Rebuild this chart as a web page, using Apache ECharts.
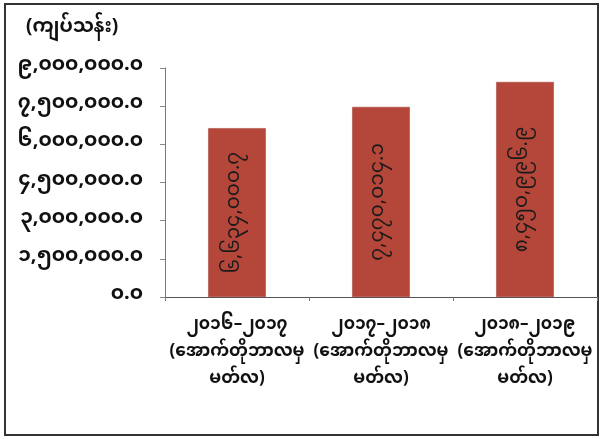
<!DOCTYPE html>
<html><head><meta charset="utf-8">
<script src="https://cdn.jsdelivr.net/npm/echarts@6/dist/echarts.min.js"></script>
<style>html,body{margin:0;padding:0;background:#fff}#c{width:602px;height:439px}</style>
</head><body><div id="c"></div>
<script>
var categories = ['၂၀၁၆–၂၀၁၇\n(အောက်တိုဘာလမှ\nမတ်လ)', '၂၀၁၇–၂၀၁၈\n(အောက်တိုဘာလမှ\nမတ်လ)', '၂၀၁၈–၂၀၁၉\n(အောက်တိုဘာလမှ\nမတ်လ)'];
var values = [6634000.7, 7470014.1, 8450996.9];
var unitLabel = '(ကျပ်သန်း)';
var yMin = 0, yMax = 9000000, yStep = 1500000;

var FONT = '"Noto Sans Myanmar","Padauk","Myanmar Text","Noto Sans","DejaVu Sans",sans-serif';
function toMy(s){ var d='၀၁၂၃၄၅၆၇၈၉'; return String(s).replace(/[0-9]/g,function(c){return d[+c];}); }
function fmt(v){
  var parts = Number(v).toFixed(1).split('.');
  parts[0] = parts[0].replace(/\B(?=(\d{3})+(?!\d))/g, ',');
  return toMy(parts.join('.'));
}
var chart = echarts.init(document.getElementById('c'));
chart.setOption({
  animation:false,
  backgroundColor:'#fff',
  graphic:[
    {type:'rect', shape:{x:5,y:4,width:593,height:431}, style:{fill:'none',stroke:'#333',lineWidth:2}},
    {type:'text', left:26, top:20, style:{text:unitLabel, font:'bold 19px '+FONT, fill:'#111'}}
  ],
  grid:{left:165, right:5, top:68, bottom:142},
  xAxis:{type:'category', data:categories,
    axisLine:{lineStyle:{color:'#555',width:1}},
    axisTick:{show:true, length:4, lineStyle:{color:'#777'}},
    axisLabel:{color:'#111', fontFamily:FONT, fontWeight:'bold', fontSize:17, lineHeight:27, margin:17, interval:0}
  },
  yAxis:{type:'value', min:yMin, max:yMax, interval:yStep,
    axisLine:{show:true, lineStyle:{color:'#777',width:1}},
    axisTick:{show:true, length:5, lineStyle:{color:'#888'}},
    splitLine:{show:false},
    axisLabel:{color:'#111', fontFamily:FONT, fontWeight:'bold', fontSize:20, margin:22, formatter:function(v){return fmt(v);}}
  },
  series:[{type:'bar', data:values, barWidth:'40%',
    itemStyle:{color:'#b5473a', borderColor:'#a33d31', borderWidth:0.5},
    label:{show:true, position:'inside', rotate:90, color:'#1a1a1a', fontFamily:FONT, fontSize:20,
      formatter:function(p){return fmt(p.value);}}
  }]
});
</script></body></html>
